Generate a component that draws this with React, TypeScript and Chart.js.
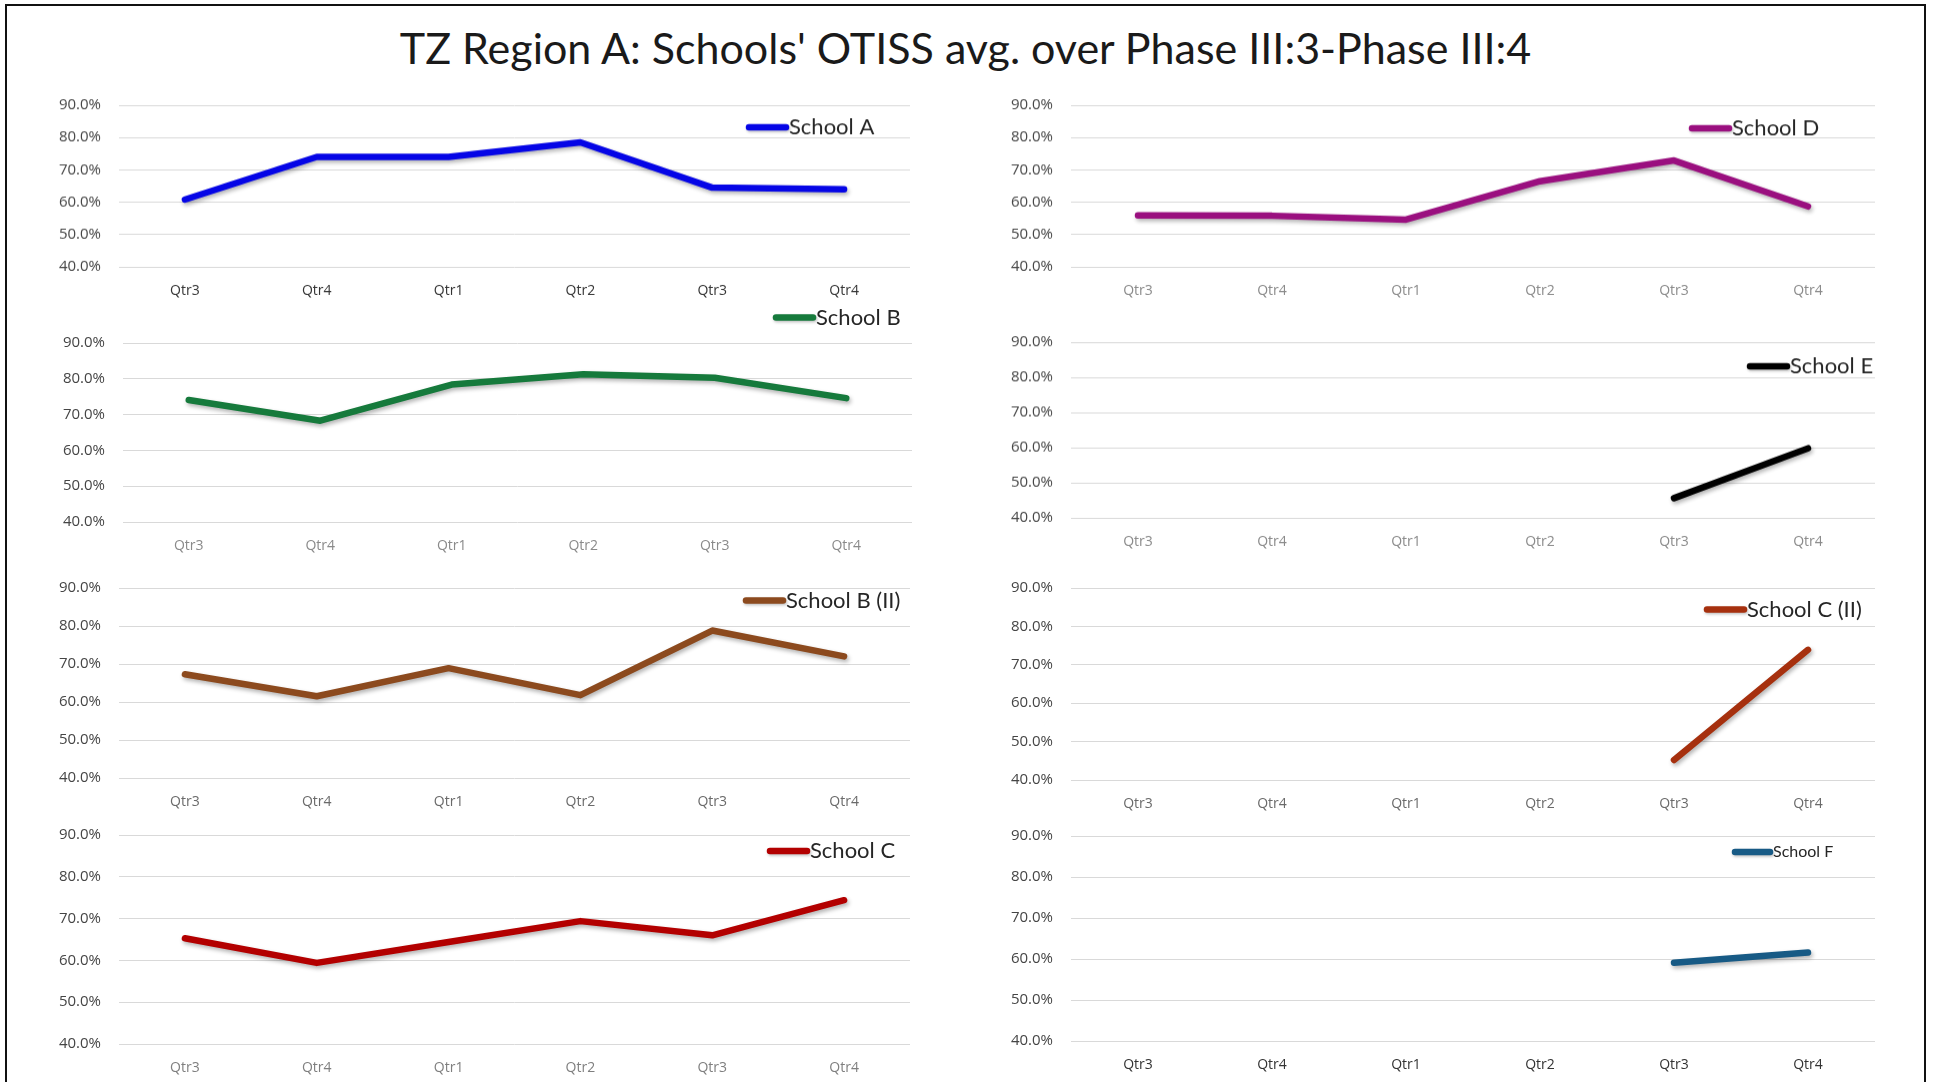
import React, { useEffect, useRef } from "react";
import { Chart, registerables } from "chart.js";

Chart.register(...registerables);

// ---------- DATA ----------
const quarters = ["Qtr3", "Qtr4", "Qtr1", "Qtr2", "Qtr3", "Qtr4"];
const yMin = 40;
const yMax = 90;
const yStep = 10;

const schoolA = [60.8, 74.0, 74.0, 78.5, 64.5, 64.0];
const schoolB = [74.1, 68.3, 78.4, 81.3, 80.3, 74.6];
const schoolB2 = [67.3, 61.5, 68.9, 61.8, 78.8, 72.0];
const schoolC = [65.3, 59.4, 64.4, 69.4, 66.0, 74.4];
const schoolD = [55.9, 55.8, 54.6, 66.5, 72.9, 58.7];
const schoolE = [null, null, null, null, 45.6, 59.8];
const schoolC2 = [null, null, null, null, 45.2, 73.9];
const schoolF = [null, null, null, null, 59.1, 61.6];

const TITLE = "TZ Region A: Schools' OTISS avg. over Phase III:3-Phase III:4";

// ---------- LAYOUT / STYLE ----------
type Panel = {
  label: string;
  data: (number | null)[];
  color: string;
  plot: { l: number; r: number; t: number; b: number };
  legend: { x: number; y: number; size: number; box: number };
  xColor: string;
};

const panels: Panel[] = [
  { label: "School A", data: schoolA, color: "#0505E6", plot: { l: 119, r: 910, t: 105, b: 266.5 }, legend: { x: 746, y: 127, size: 22, box: 43 }, xColor: "#333333" },
  { label: "School B", data: schoolB, color: "#167A3C", plot: { l: 123, r: 912, t: 342.5, b: 521.5 }, legend: { x: 773, y: 317, size: 22, box: 43 }, xColor: "#8a8a8a" },
  { label: "School B (II)", data: schoolB2, color: "#8C4A1E", plot: { l: 119, r: 910, t: 587.5, b: 778 }, legend: { x: 743, y: 600, size: 22, box: 43 }, xColor: "#6a6a6a" },
  { label: "School C", data: schoolC, color: "#B30000", plot: { l: 119, r: 910, t: 835, b: 1044 }, legend: { x: 767, y: 851, size: 22, box: 43 }, xColor: "#7f7f7f" },
  { label: "School D", data: schoolD, color: "#9A0F7F", plot: { l: 1071, r: 1875, t: 105, b: 266.5 }, legend: { x: 1689, y: 128, size: 22, box: 43 }, xColor: "#8a8a8a" },
  { label: "School E", data: schoolE, color: "#000000", plot: { l: 1071, r: 1875, t: 342, b: 517.5 }, legend: { x: 1747, y: 366, size: 22, box: 43 }, xColor: "#8a8a8a" },
  { label: "School C (II)", data: schoolC2, color: "#A6300E", plot: { l: 1071, r: 1875, t: 587.5, b: 780 }, legend: { x: 1704, y: 609, size: 22, box: 43 }, xColor: "#6a6a6a" },
  { label: "School F", data: schoolF, color: "#175A85", plot: { l: 1071, r: 1875, t: 836, b: 1041 }, legend: { x: 1732, y: 852, size: 16, box: 41 }, xColor: "#333333" },
];

const AXIS_W = 115;
const PAD_T = 50;
const PAD_R = 50;
const AXIS_H = 45;
const LINE_W = 6.5;

const lineShadow = {
  id: "lineShadow",
  beforeDatasetsDraw(chart: any) {
    const ctx = chart.ctx;
    ctx.save();
    ctx.shadowColor = "rgba(0,0,0,0.30)";
    ctx.shadowBlur = 4;
    ctx.shadowOffsetX = 1.5;
    ctx.shadowOffsetY = 2.5;
  },
  afterDatasetsDraw(chart: any) {
    chart.ctx.restore();
  },
};

const insetLegend = {
  id: "insetLegend",
  afterDraw(chart: any, _args: any, opts: any) {
    const ctx = chart.ctx;
    const ds = chart.data.datasets[0];
    ctx.save();
    ctx.shadowColor = "rgba(0,0,0,0.25)";
    ctx.shadowBlur = 3;
    ctx.shadowOffsetX = 1;
    ctx.shadowOffsetY = 1.5;
    ctx.lineCap = "round";
    ctx.strokeStyle = ds.borderColor;
    ctx.lineWidth = LINE_W;
    ctx.beginPath();
    ctx.moveTo(opts.x + 3, opts.y);
    ctx.lineTo(opts.x + opts.box - 3, opts.y);
    ctx.stroke();
    ctx.shadowColor = "transparent";
    ctx.fillStyle = "#262626";
    ctx.font = `${opts.size}px Lato`;
    ctx.textBaseline = "middle";
    ctx.textAlign = "left";
    ctx.fillText(ds.label, opts.x + opts.box, opts.y);
    ctx.restore();
  },
};

function PanelChart({ p }: { p: Panel }) {
  const ref = useRef<HTMLCanvasElement | null>(null);
  const left = p.plot.l - AXIS_W;
  const top = p.plot.t - PAD_T;
  const width = p.plot.r + PAD_R - left;
  const height = p.plot.b + AXIS_H - top;

  useEffect(() => {
    if (!ref.current) return;
    const chart = new Chart(ref.current, {
      type: "line",
      data: {
        labels: quarters,
        datasets: [
          {
            label: p.label,
            data: p.data,
            borderColor: p.color,
            backgroundColor: p.color,
            borderWidth: LINE_W,
            borderCapStyle: "round",
            borderJoinStyle: "round",
            pointRadius: 0,
            pointHoverRadius: 0,
            tension: 0,
            spanGaps: false,
            fill: false,
          },
        ],
      },
      options: {
        responsive: false,
        animation: false,
        devicePixelRatio: 1,
        layout: { padding: { top: PAD_T, right: PAD_R, left: 0, bottom: 0 } },
        plugins: {
          legend: { display: false },
          title: { display: false },
          tooltip: { enabled: false },
          insetLegend: {
            x: p.legend.x - left,
            y: p.legend.y - top,
            size: p.legend.size,
            box: p.legend.box,
          },
        } as any,
        scales: {
          x: {
            type: "category",
            offset: true,
            grid: { display: false, drawTicks: false },
            border: { display: false },
            ticks: {
              padding: 16,
              color: p.xColor,
              font: { family: "'Open Sans'", size: 14 },
              maxRotation: 0,
              autoSkip: false,
            },
            afterFit(scale: any) {
              scale.height = AXIS_H;
            },
          },
          y: {
            min: yMin,
            max: yMax,
            grid: { color: "#d9d9d9", lineWidth: 1, drawTicks: false },
            border: { display: false },
            ticks: {
              stepSize: yStep,
              padding: 18,
              color: "#454545",
              font: { family: "'Open Sans'", size: 15 },
              callback: (v: any) => `${Number(v).toFixed(1)}%`,
            },
            afterFit(scale: any) {
              scale.width = AXIS_W;
            },
          },
        },
      },
      plugins: [lineShadow, insetLegend],
    } as any);
    return () => chart.destroy();
  }, []);

  return (
    <canvas
      ref={ref}
      width={width}
      height={height}
      style={{ position: "absolute", left, top, width, height }}
    />
  );
}

export default function App() {
  return (
    <div
      style={{
        position: "fixed",
        left: 0,
        top: 0,
        width: 1933,
        height: 1082,
        overflow: "hidden",
        background: "#ffffff",
      }}
    >
      <div
        style={{
          position: "absolute",
          left: 5,
          top: 4,
          width: 1921,
          height: 1200,
          border: "2px solid #111",
          boxSizing: "border-box",
        }}
      />
      <div
        style={{
          position: "absolute",
          left: 5,
          top: 26,
          width: 1921,
          textAlign: "center",
          fontFamily: "Lato",
          fontSize: 43,
          lineHeight: "43px",
          color: "#1a1a1a",
          whiteSpace: "nowrap",
        }}
      >
        {TITLE}
      </div>
      {panels.map((p, i) => (
        <PanelChart key={i} p={p} />
      ))}
    </div>
  );
}
